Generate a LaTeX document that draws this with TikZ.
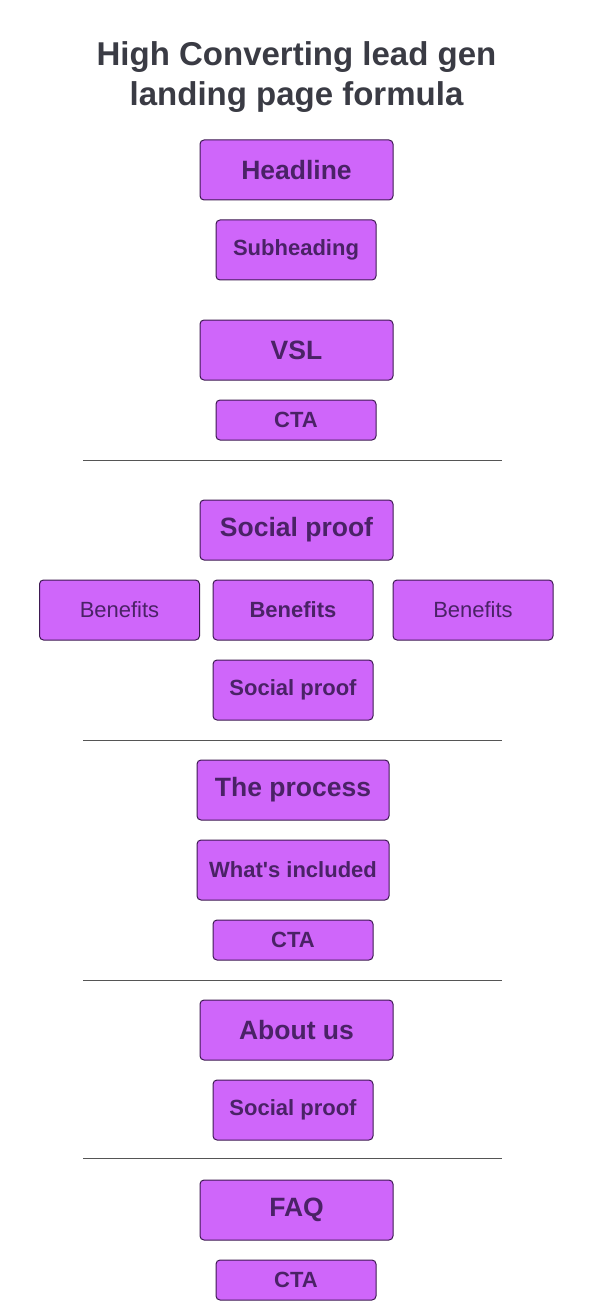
\documentclass[tikz,border=0pt]{standalone}
\usepackage{fontspec}
\setmainfont{Liberation Sans}
\usetikzlibrary{positioning}
\definecolor{boxfill}{HTML}{CF66FA}
\definecolor{boxline}{HTML}{3E1A52}
\definecolor{boxtext}{HTML}{4A2266}
\definecolor{titlegray}{HTML}{3A3B44}
\definecolor{rulegray}{HTML}{555555}

\begin{document}
\begin{tikzpicture}[x=1pt, y=-1pt,
  main/.style = {draw=boxline, fill=boxfill, line width=1pt, rounded corners=4pt, text=boxtext,
                 inner sep=0pt, minimum width=193pt, minimum height=60pt,
                 font=\fontsize{26.5}{30}\selectfont\bfseries},
  sub/.style = {main, minimum width=160pt, font=\fontsize{22}{26}\selectfont\bfseries},
  cta/.style = {sub, minimum height=40pt},
  plain/.style = {sub, font=\fontsize{22}{26}\selectfont},
  sep/.style = {draw=rulegray, line width=0.8pt}]
\useasboundingbox (0,0) rectangle (593,1305);

% title
\node[text=titlegray, font=\fontsize{33}{40}\selectfont\bfseries, align=center] (title) at (296.5,77)
  {High Converting lead gen\\landing page formula};

% top block
\node[main] (head) at (296.5,170) {Headline};
\node[sub]  (subh) at (296,250) {Subheading};
\node[main] (vsl)  at (296.5,350) {VSL};
\node[cta]  (cta1) at (296,420) {CTA};

% social proof block
\node[main]  (sp1) at (296.5,530) {Social proof};
\node[plain] (ben1) at (119.5,610) {Benefits};
\node[sub]   (ben2) at (293,610) {Benefits};
\node[plain] (ben3) at (473,610) {Benefits};
\node[sub]   (sp2) at (293,690) {Social proof};

% process block
\node[main, minimum width=192pt] (proc) at (293,790) {The process};
\node[sub, minimum width=192pt, minimum height=60pt] (incl) at (293,870) {What\textquotesingle s included};
\node[cta] (cta2) at (293,940) {CTA};

% about block
\node[main] (about) at (296.5,1030) {About us};
\node[sub]  (sp3) at (293,1110) {Social proof};

% faq block
\node[main] (faq)  at (296.5,1210) {FAQ};
\node[cta]  (cta3) at (296,1280) {CTA};

% separators
\coordinate (s1a) at (83,460);  \coordinate (s1b) at (502,460);
\coordinate (s2a) at (83,740);  \coordinate (s2b) at (502,740);
\coordinate (s3a) at (83,980);  \coordinate (s3b) at (502,980);
\coordinate (s4a) at (83,1158); \coordinate (s4b) at (502,1158);
\draw[sep] (s1a) -- (s1b);
\draw[sep] (s2a) -- (s2b);
\draw[sep] (s3a) -- (s3b);
\draw[sep] (s4a) -- (s4b);
\end{tikzpicture}
\end{document}
